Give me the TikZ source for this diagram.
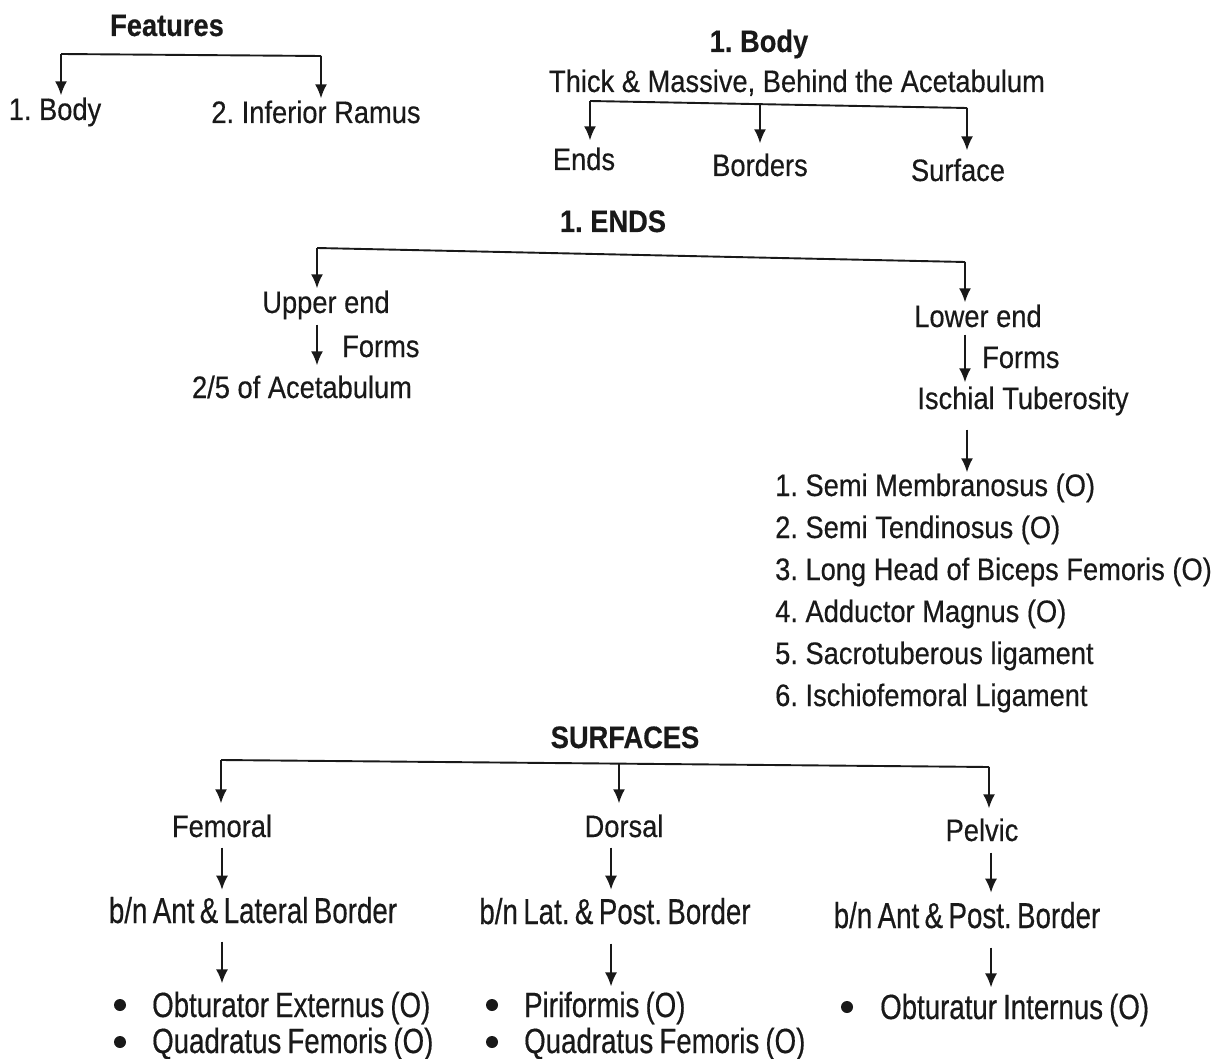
\documentclass[tikz,border=0pt]{standalone}
\usepackage{fontspec}
\setmainfont[FakeStretch=0.88,FakeBold=0.4]{Liberation Sans}
\newfontfamily\tallA[FakeStretch=0.77,WordSpace=0.7,FakeBold=0.4]{Liberation Sans}
\newfontfamily\tallB[FakeStretch=0.79,WordSpace=0.8,FakeBold=0.4]{Liberation Sans}
\usetikzlibrary{arrows.meta}
\definecolor{ink}{gray}{0.1}
\frenchspacing
\tikzset{
  lbl/.style={inner sep=0pt, anchor=base, text=ink, font=\fontsize{31}{37}\selectfont},
  lblw/.style={lbl, anchor=base west},
  hdr/.style={lbl, font=\fontsize{31}{37}\selectfont\bfseries},
  bn/.style={lbl, font=\fontsize{36}{42}\selectfont\tallA},
  blt/.style={lblw, font=\fontsize{35}{40}\selectfont\tallB},
  dot/.style={circle, fill=ink, inner sep=0pt, minimum size=12pt},
  conn/.style={line width=1.9pt, draw=ink},
  arr/.style={conn, -{Latex[length=14pt,width=12pt]}},
}
\begin{document}
\frenchspacing
\begin{tikzpicture}[x=1pt,y=-1pt]
\path[use as bounding box, fill=white] (0,0) rectangle (1221,1059);

% ---------- Features ----------
\node[hdr] (feat) at (167,36) {Features};
\node[lbl] (fbody) at (55,120) {1. Body};
\node[lbl] (framus) at (316,123) {2. Inferior Ramus};
\coordinate (fL) at (61,54);
\coordinate (fR) at (321,56);
\draw[conn] (fL) -- (fR);
\draw[arr, shorten >=2pt] (fL) -- (fL |- fbody.north);
\draw[arr, shorten >=2pt] (fR) -- (fR |- framus.north);

% ---------- 1. Body ----------
\node[hdr] (bodyB) at (759,52) {1. Body};
\node[lbl] (thick) at (797,92) {Thick \& Massive, Behind the Acetabulum};
\node[lbl] (ends) at (584,170) {Ends};
\node[lbl] (borders) at (760,176) {Borders};
\node[lbl] (surface) at (958,181) {Surface};
\coordinate (bL) at (590,101);
\coordinate (bM) at (760,104);
\coordinate (bR) at (967,108);
\draw[conn] (bL) -- (bR);
\draw[arr, shorten >=7pt] (bL) -- (bL |- ends.north);
\draw[arr, shorten >=10pt] (bM) -- (bM |- borders.north);
\draw[arr, shorten >=8pt] (bR) -- (bR |- surface.north);

% ---------- 1. ENDS ----------
\node[hdr] (endsT) at (613,232) {1. ENDS};
\node[lbl] (upper) at (326,313) {Upper end};
\node[lblw] (forms1) at (342,357) {Forms};
\node[lbl] (acet) at (302,398) {2/5 of Acetabulum};
\node[lbl] (lower) at (978,327) {Lower end};
\node[lblw] (forms2) at (982,368) {Forms};
\node[lbl] (isch) at (1023,409) {Ischial Tuberosity};
\coordinate (eL) at (317,248);
\coordinate (eR) at (965,262);
\draw[conn] (eL) -- (eR);
\draw[arr, shorten >=2pt] (eL) -- (eL |- upper.north);
\draw[arr, shorten >=2pt] (eR) -- (eR |- lower.north);
\draw[arr, shorten <=5pt, shorten >=10pt] (eL |- upper.south) -- (eL |- acet.north);
\draw[arr, shorten <=7pt, shorten >=4pt] (eR |- lower.south) -- (eR |- isch.north);

\node[lblw] (m1) at (775,496) {1. Semi Membranosus (O)};
\node[lblw] (m2) at (775,538) {2. Semi Tendinosus (O)};
\node[lblw] (m3) at (775,580) {3. Long Head of Biceps Femoris (O)};
\node[lblw] (m4) at (775,622) {4. Adductor Magnus (O)};
\node[lblw] (m5) at (775,664) {5. Sacrotuberous ligament};
\node[lblw] (m6) at (775,706) {6. Ischiofemoral Ligament};
\coordinate (lx) at (967,0);
\draw[arr, shorten <=14pt, shorten >=1pt] (lx |- isch.south) -- (lx |- m1.north);

% ---------- SURFACES ----------
\node[hdr] (surfT) at (625,748) {SURFACES};
\node[lbl] (femoral) at (222,837) {Femoral};
\node[lbl] (dorsal) at (624,837) {Dorsal};
\node[lbl] (pelvic) at (982,841) {Pelvic};
\coordinate (sL) at (221,760);
\coordinate (sM) at (619,763);
\coordinate (sR) at (989,767);
\draw[conn] (sL) -- (sR);
\draw[arr, shorten >=11pt] (sL) -- (sL |- femoral.north);
\draw[arr, shorten >=11pt] (sM) -- (sM |- dorsal.north);
\draw[arr, shorten >=10pt] (sR) -- (sR |- pelvic.north);

\node[bn] (bnA) at (253,923) {b/n Ant \& Lateral Border};
\node[bn] (bnB) at (615,924) {b/n Lat. \& Post. Border};
\node[bn] (bnC) at (967,928) {b/n Ant \& Post. Border};
\coordinate (xA) at (222,0);
\coordinate (xB) at (611,0);
\coordinate (xC) at (991,0);
\draw[arr, shorten <=10pt, shorten >=7pt] (xA |- femoral.south) -- (xA |- bnA.north);
\draw[arr, shorten <=10pt, shorten >=8pt] (xB |- dorsal.south) -- (xB |- bnB.north);
\draw[arr, shorten <=11pt, shorten >=9pt] (xC |- pelvic.south) -- (xC |- bnC.north);

\node[blt] (oe) at (152,1017) {Obturator Externus (O)};
\node[blt] (qf1) at (152,1053) {Quadratus Femoris (O)};
\node[blt] (pir) at (524,1017) {Piriformis (O)};
\node[blt] (qf2) at (524,1053) {Quadratus Femoris (O)};
\node[blt] (oi) at (880,1019) {Obturatur Internus (O)};
\node[dot] (d1) at (120,1005) {};
\node[dot] (d2) at (120,1042) {};
\node[dot] (d3) at (492,1005) {};
\node[dot] (d4) at (492,1042) {};
\node[dot] (d5) at (847,1007) {};
\draw[arr, shorten <=18pt, shorten >=8pt] (xA |- bnA.south) -- (xA |- oe.north);
\draw[arr, shorten <=19pt, shorten >=5pt] (xB |- bnB.south) -- (xB |- pir.north);
\draw[arr, shorten <=19pt, shorten >=6pt] (xC |- bnC.south) -- (xC |- oi.north);
\end{tikzpicture}
\end{document}
